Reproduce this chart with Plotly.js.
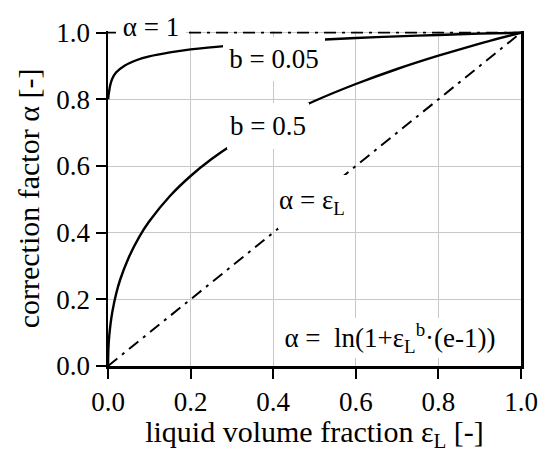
<!DOCTYPE html>
<html>
<head>
<meta charset="utf-8">
<script src="https://cdn.plot.ly/plotly-3.0.1.min.js"></script>
<style>html,body{margin:0;padding:0;background:#fff;} #chart{width:539px;height:453px;}</style>
</head>
<body>
<div id="chart"></div>
<script>
// liquid volume fraction values (x)
const epsB005 = [0.0005, 0.001, 0.002, 0.005, 0.01, 0.02, 0.04, 0.07, 0.1, 0.15, 0.2, 0.3, 0.4, 0.5, 0.6, 0.7, 0.8, 0.9, 1.0];
const alphaB005 = [0.80, 0.81, 0.818, 0.841, 0.861, 0.881, 0.901, 0.918, 0.929, 0.941, 0.950, 0.962, 0.971, 0.978, 0.984, 0.989, 0.993, 0.997, 1.0];

const epsB05 = [0, 0.001, 0.003, 0.006, 0.01, 0.02, 0.03, 0.05, 0.075, 0.1, 0.15, 0.2, 0.25, 0.3, 0.4, 0.5, 0.6, 0.7, 0.8, 0.9, 1.0];
const alphaB05 = [0, 0.053, 0.090, 0.125, 0.159, 0.218, 0.261, 0.325, 0.386, 0.434, 0.510, 0.570, 0.620, 0.663, 0.736, 0.795, 0.846, 0.891, 0.931, 0.967, 1.0];

const epsRef = [0, 1];
const alphaOne = [1, 1];
const alphaEqEps = [0, 1];

const xTicks = [0, 0.2, 0.4, 0.6, 0.8, 1.0];
const yTicks = [0, 0.2, 0.4, 0.6, 0.8, 1.0];

const labelTexts = ['α = 1', 'b = 0.05', 'b = 0.5', 'α = ε<sub>L</sub>', 'α =  ln(1+ε<sub>L</sub><sup>b</sup>·(e-1))'];
const labelX = [0.104, 0.403, 0.388, 0.493, 0.682];
const labelY = [1.017, 0.921, 0.720, 0.492, 0.084];

const FONT = 'Liberation Serif';
const dashDot = '12px,6px,3px,6px';

const traces = [
  {x: epsRef, y: alphaOne, mode: 'lines', line: {color: '#000', width: 1.6, dash: dashDot}, hoverinfo: 'skip'},
  {x: epsRef, y: alphaEqEps, mode: 'lines', line: {color: '#000', width: 2, dash: dashDot}, hoverinfo: 'skip'},
  {x: epsB005, y: alphaB005, mode: 'lines', line: {color: '#000', width: 2.4, shape: 'spline', smoothing: 0.6}},
  {x: epsB05, y: alphaB05, mode: 'lines', line: {color: '#000', width: 2.4, shape: 'spline', smoothing: 0.6}}
];

const boxW = [70, 102, 82, 68, 232];
const boxH = [28, 44, 46, 54, 40];

// plot area: y range [0,1.005]
const annotations = labelTexts.map((t, i) => {
  const a = {
    text: t, showarrow: false, xanchor: 'center', yanchor: 'middle',
    bgcolor: '#fff', borderpad: 0, borderwidth: 0,
    width: boxW[i], height: boxH[i],
    font: {family: FONT, size: 27, color: '#000'}
  };
  if (labelY[i] > 1.0) {
    a.xref = 'paper'; a.yref = 'paper';
    a.x = labelX[i]; a.y = labelY[i] / 1.005;
  } else {
    a.xref = 'x'; a.yref = 'y';
    a.x = labelX[i]; a.y = labelY[i];
  }
  return a;
});

const layout = {
  width: 539, height: 453,
  margin: {l: 108, r: 18, t: 31, b: 87, pad: 0},
  paper_bgcolor: '#fff', plot_bgcolor: '#fff',
  showlegend: false,
  font: {family: FONT, size: 27, color: '#000'},
  xaxis: {
    range: [0, 1.0], tickvals: xTicks, tickformat: '.1f',
    showgrid: true, gridcolor: '#c8c8c8', gridwidth: 1,
    zeroline: false, showline: true, linecolor: '#000', linewidth: 2.5,
    ticks: 'outside', ticklen: 10, tickwidth: 2, tickcolor: '#000',
    tickfont: {family: FONT, size: 27, color: '#000'},
    title: {text: 'liquid volume fraction ε<sub>L</sub> [-]', font: {family: FONT, size: 30, color: '#000'}, standoff: 10},
    automargin: false
  },
  yaxis: {
    range: [0, 1.005], tickvals: yTicks, tickformat: '.1f',
    showgrid: true, gridcolor: '#c8c8c8', gridwidth: 1,
    zeroline: false, showline: true, mirror: true, linecolor: '#000', linewidth: 2.5,
    ticks: 'outside', ticklen: 10, tickwidth: 2, tickcolor: '#000',
    tickfont: {family: FONT, size: 27, color: '#000'},
    title: {text: 'correction factor α [-]', font: {family: FONT, size: 30, color: '#000'}, standoff: 8},
    automargin: false
  },
  annotations: annotations
};

Plotly.newPlot('chart', traces, layout, {staticPlot: true, displayModeBar: false});
</script>
</body>
</html>
